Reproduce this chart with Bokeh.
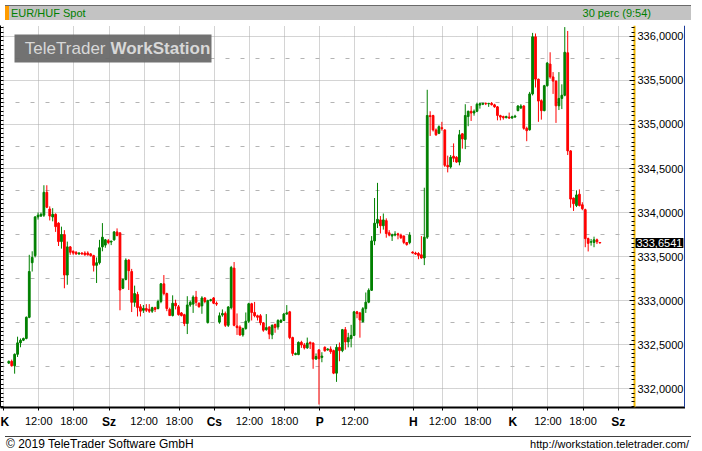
import numpy as np
from bokeh.plotting import figure
from bokeh.models import (FixedTicker, LinearAxis, Range1d, Label, Div, Grid,
                          BoxAnnotation, ColumnDataSource, Span)
from bokeh.layouts import column
from bokeh.embed import file_html
from bokeh.resources import INLINE

# ---------------- texts ----------------
title_left = "EUR/HUF Spot"
title_right = "30 perc (9:54)"
copyright_text = "© 2019 TeleTrader Software GmbH"
url_text = "http://workstation.teletrader.com/"
wm_light = "TeleTrader"
wm_bold = "WorkStation"

# ---------------- sessions (30 minute slots) ----------------
session_days = ["K", "Sz", "Cs", "P", "H", "K", "Sz"]
session_open_hour = [6, 6, 6, 6, 7, 6, 6]
session_slots = [36, 36, 36, 32, 34, 36, 36]
session_time_labels = [["12:00", "18:00"], ["12:00", "18:00"], ["12:00", "18:00"],
                       ["12:00"], ["12:00", "18:00"], ["12:00", "18:00"], []]

first_slot = 1  # first candle = K 06:30

# ---------------- candles (30 perc) ----------------
opens = [
    332.29, 332.31, 332.26, 332.39, 332.52, 332.55, 332.57, 332.81, 333.43, 333.51,
    333.95, 333.96, 333.97, 334.23, 334.04, 333.95, 333.98, 333.88, 333.67, 333.75,
    333.29, 333.61, 333.56, 333.55, 333.53, 333.54, 333.54, 333.54, 333.53, 333.51,
    333.40, 333.43, 333.61, 333.63, 333.68,
    333.665, 333.69, 333.78, 333.77, 333.14, 333.24, 333.46, 333.33, 332.98, 333.07,
    332.93, 332.89, 332.91, 332.90, 332.88, 332.92, 332.91, 332.99, 333.19, 333.08,
    332.90, 332.83, 332.97, 332.93, 332.86, 332.84, 332.74, 332.95, 332.96, 333.04,
    332.97, 332.94, 333.03, 332.75, 333.00, 333.03,
    332.97, 332.755, 332.836, 332.854, 332.719, 332.92, 333.369, 332.712, 332.70, 332.61,
    332.682, 332.766, 332.964, 332.865, 332.828, 332.828, 332.748, 332.67, 332.70, 332.61,
    332.73, 332.70, 332.755, 332.774, 332.847, 332.872, 332.58, 332.387, 332.387, 332.526,
    332.496, 332.463, 332.526, 332.518, 332.336, 332.44,
    332.355, 332.47, 332.44, 332.45, 332.432, 332.176, 332.469, 332.432, 332.67, 332.531,
    332.568, 332.605, 332.872, 332.86, 332.762, 332.908, 332.982, 333.117, 333.678, 333.879,
    333.916, 333.85, 333.908, 333.77, 333.733, 333.744, 333.758, 333.744, 333.733, 333.66,
    333.66, 333.55,
    333.54, 333.535, 333.52, 333.484, 333.72, 335.10, 335.102, 334.938, 334.90, 334.963,
    334.938, 334.536, 334.518, 334.64, 334.628, 334.573, 334.894, 334.83, 335.09, 335.15,
    335.13, 335.15, 335.22, 335.23, 335.24, 335.235, 335.24, 335.223, 335.20, 335.10,
    335.09, 335.077, 335.084, 335.073,
    335.084, 335.157, 335.186, 335.21, 334.956, 334.94, 335.347, 335.996, 335.515, 335.27,
    335.157, 335.44, 335.686, 335.54, 335.493, 335.212, 335.296, 335.332, 335.814, 334.70,
    334.164, 334.08, 334.208, 334.088, 334.033, 333.704, 333.664, 333.66, 333.69, 333.66,
]
highs = [
    332.32, 332.33, 332.40, 332.59, 332.57, 332.58, 332.82, 333.52, 333.56, 333.96,
    334.00, 334.00, 334.31, 334.31, 334.07, 334.05, 333.99, 333.89, 333.84, 333.80,
    333.67, 333.62, 333.57, 333.56, 333.55, 333.55, 333.56, 333.56, 333.54, 333.52,
    333.49, 333.69, 333.88, 333.70, 333.70,
    333.68, 333.79, 333.82, 333.77, 333.25, 333.48, 333.47, 333.36, 333.17, 333.10,
    332.96, 332.95, 332.96, 332.96, 332.93, 332.93, 333.01, 333.20, 333.29, 333.09,
    332.92, 333.06, 333.01, 332.95, 332.87, 332.85, 333.05, 333.00, 333.06, 333.11,
    332.98, 333.05, 333.04, 333.01, 333.02, 333.04,
    332.99, 332.865, 332.90, 332.876, 332.938, 333.394, 333.438, 332.854, 332.72, 332.693,
    332.865, 332.975, 332.975, 332.985, 332.84, 332.847, 332.755, 332.847, 332.708, 332.73,
    332.737, 332.788, 332.79, 332.86, 332.949, 332.883, 332.59, 332.41, 332.536, 332.544,
    332.518, 332.58, 332.535, 332.526, 332.40, 332.45,
    332.414, 332.48, 332.46, 332.48, 332.443, 332.505, 332.524, 332.678, 332.70, 332.634,
    332.725, 332.883, 332.883, 332.872, 332.927, 333.092, 333.139, 333.733, 334.165, 334.337,
    333.96, 333.989, 333.934, 333.80, 333.76, 333.788, 333.77, 333.76, 333.74, 333.665,
    333.777, 333.56,
    333.555, 333.55, 333.733, 334.282, 335.394, 335.15, 335.11, 334.955, 334.99, 335.03,
    334.945, 334.646, 334.653, 334.785, 334.64, 334.938, 334.90, 335.23, 335.157, 335.21,
    335.17, 335.248, 335.25, 335.245, 335.25, 335.245, 335.255, 335.235, 335.21, 335.11,
    335.10, 335.10, 335.135, 335.10,
    335.11, 335.22, 335.23, 335.22, 334.975, 335.37, 336.04, 336.033, 335.52, 335.285,
    335.45, 335.71, 335.82, 335.595, 335.50, 335.595, 335.456, 336.106, 336.062, 334.708,
    334.17, 334.252, 334.263, 334.117, 334.044, 333.715, 333.70, 333.726, 333.704, 333.665,
]
lows = [
    332.28, 332.25, 332.17, 332.36, 332.47, 332.54, 332.56, 332.80, 333.33, 333.49,
    333.92, 333.95, 333.95, 334.05, 333.91, 333.90, 333.78, 333.62, 333.59, 333.14,
    333.18, 333.52, 333.52, 333.52, 333.52, 333.52, 333.51, 333.51, 333.50, 333.33,
    333.20, 333.41, 333.56, 333.60, 333.64,
    333.63, 333.68, 333.73, 332.89, 333.13, 333.23, 333.12, 332.87, 332.93, 332.82,
    332.82, 332.86, 332.87, 332.86, 332.86, 332.87, 332.90, 332.97, 333.06, 332.88,
    332.83, 332.82, 332.90, 332.83, 332.82, 332.71, 332.62, 332.93, 332.86, 332.94,
    332.92, 332.85, 332.97, 332.74, 332.99, 332.96,
    332.94, 332.737, 332.817, 332.70, 332.70, 332.90, 332.708, 332.61, 332.60, 332.59,
    332.67, 332.745, 332.774, 332.81, 332.774, 332.72, 332.646, 332.657, 332.562, 332.562,
    332.635, 332.67, 332.745, 332.77, 332.84, 332.562, 332.372, 332.38, 332.38, 332.463,
    332.445, 332.452, 332.45, 332.226, 332.328, 331.82,
    332.30, 332.42, 332.43, 332.395, 332.165, 332.077, 332.311, 332.414, 332.443, 332.469,
    332.469, 332.597, 332.80, 332.579, 332.75, 332.86, 332.97, 333.11, 333.63, 333.824,
    333.762, 333.806, 333.714, 333.73, 333.677, 333.73, 333.696, 333.70, 333.641, 333.623,
    333.64, 333.535,
    333.52, 333.47, 333.476, 333.403, 333.70, 334.87, 334.92, 334.87, 334.89, 334.93,
    334.518, 334.456, 334.50, 334.573, 334.565, 334.536, 334.726, 334.72, 334.98, 335.04,
    335.10, 335.14, 335.18, 335.22, 335.22, 335.20, 335.215, 335.19, 335.047, 335.047,
    335.055, 335.07, 335.062, 335.066,
    335.077, 335.15, 335.18, 334.94, 334.81, 334.93, 335.33, 335.42, 335.03, 335.055,
    335.15, 335.43, 335.52, 335.347, 335.018, 335.164, 335.175, 335.32, 334.653, 334.055,
    334.018, 334.062, 334.069, 334.026, 333.606, 333.558, 333.624, 333.606, 333.642, 333.65,
]
closes = [
    332.31, 332.26, 332.39, 332.52, 332.55, 332.57, 332.81, 333.33, 333.49, 333.95,
    333.97, 333.98, 334.23, 334.06, 333.96, 333.98, 333.84, 333.67, 333.75, 333.29,
    333.61, 333.55, 333.54, 333.53, 333.54, 333.53, 333.52, 333.52, 333.51, 333.40,
    333.43, 333.60, 333.72, 333.69, 333.66,
    333.675, 333.78, 333.74, 333.12, 333.24, 333.46, 333.34, 332.98, 333.08, 332.92,
    332.88, 332.91, 332.89, 332.88, 332.92, 332.90, 332.99, 333.19, 333.08, 332.91,
    332.83, 332.97, 332.94, 332.84, 332.83, 332.74, 332.95, 332.98, 333.04, 332.98,
    332.93, 333.03, 332.99, 333.00, 333.01, 332.97,
    332.96, 332.828, 332.854, 332.719, 332.927, 333.376, 332.719, 332.693, 332.61, 332.682,
    332.766, 332.964, 332.865, 332.828, 332.81, 332.748, 332.664, 332.693, 332.62, 332.719,
    332.693, 332.774, 332.774, 332.847, 332.861, 332.58, 332.40, 332.40, 332.526, 332.496,
    332.463, 332.518, 332.511, 332.336, 332.365, 332.34,
    332.37, 332.43, 332.45, 332.42, 332.176, 332.469, 332.432, 332.67, 332.531, 332.579,
    332.605, 332.872, 332.853, 332.78, 332.908, 332.982, 333.117, 333.678, 333.879, 333.923,
    333.85, 333.916, 333.762, 333.744, 333.747, 333.755, 333.744, 333.714, 333.66, 333.637,
    333.744, 333.54,
    333.528, 333.513, 333.484, 333.72, 335.102, 335.09, 334.938, 334.883, 334.975, 334.953,
    334.536, 334.518, 334.628, 334.617, 334.573, 334.883, 334.836, 335.102, 335.15, 335.13,
    335.15, 335.23, 335.237, 335.24, 335.235, 335.24, 335.225, 335.20, 335.102, 335.084,
    335.077, 335.09, 335.073, 335.088,
    335.095, 335.21, 335.21, 334.956, 334.93, 335.347, 335.996, 335.515, 335.266, 335.157,
    335.44, 335.697, 335.54, 335.493, 335.212, 335.296, 335.332, 335.82, 334.70, 334.153,
    334.10, 334.20, 334.08, 334.044, 333.704, 333.65, 333.668, 333.69, 333.668, 333.6541,
]

# price axis
y_major = [332.0, 332.5, 333.0, 333.5, 334.0, 334.5, 335.0, 335.5, 336.0]
y_step_minor = 0.05

# ---------------- view / style ----------------
x_start, x_end = -1.83, 214.83          # candle area
y_start, y_end = 331.786, 336.124
CW, PW, FH = 634, 51, 382               # candle area width, price panel width, frame height
GREEN, RED = "#008000", "#ff0000"
GRID = "#a8a8a8"
FONT = "Liberation Sans"

# ---------------- derived ----------------
n = len(closes)
xs = np.arange(first_slot, first_slot + n)
o = np.array(opens); c = np.array(closes)
h = np.array(highs); l = np.array(lows)
up = c >= o
col = np.where(up, GREEN, RED)
src = ColumnDataSource(dict(x=xs, o=o, c=c, h=h, l=l,
                            top=np.maximum(o, c), bot=np.minimum(o, c), col=col))

day_ticks, time_ticks, time_tick_labels = [], [], []
start = 0
for d, oh, ns, tl in zip(session_days, session_open_hour, session_slots, session_time_labels):
    day_ticks.append(start - 0.75)
    for lab in tl:
        hh = int(lab.split(":")[0])
        time_ticks.append(start + (hh - oh) * 2 - 0.75)
        time_tick_labels.append(lab)
    start += ns
all_x_ticks = sorted(day_ticks + time_ticks)

y_minor = list(np.round(np.arange(y_major[0] - 0.5, y_major[-1] + 0.5 + 1e-9, y_step_minor), 4))
y_quarter = [v + 0.25 for v in y_major[:-1]]
y_labels = {v: f"{v:.4f}".replace(".", ",") for v in y_major}

# the frame also hosts the price panel at its right
x_full_end = x_start + (x_end - x_start) * (CW + PW) / CW

p = figure(frame_width=CW + PW, frame_height=FH, output_backend="svg", toolbar_location=None,
           x_range=Range1d(x_start, x_full_end), y_range=Range1d(y_start, y_end),
           min_border_left=0, min_border_right=0, min_border_top=0, min_border_bottom=0,
           background_fill_color="white", border_fill_color="white")
p.outline_line_color = None

# grids
p.xgrid.ticker = FixedTicker(ticks=all_x_ticks)
p.xgrid.grid_line_color = GRID
p.xgrid.grid_line_dash = "1 1"
p.ygrid.ticker = FixedTicker(ticks=y_major)
p.ygrid.grid_line_color = GRID
p.ygrid.grid_line_dash = "1 1"
qgrid = Grid(dimension=1, ticker=FixedTicker(ticks=y_quarter),
             grid_line_color="#b4b4b4", grid_line_dash="4 11", grid_line_width=1)
p.add_layout(qgrid)

# white price panel covering the grid lines
p.add_layout(BoxAnnotation(left=x_end, right=x_full_end, bottom=y_start, top=y_end,
                           fill_color="white", fill_alpha=1.0, line_color=None,
                           level="underlay"))
p.add_layout(Span(location=x_full_end, dimension="height", line_color="#1c3c9c",
                  line_width=3))

# x axis: time labels (days only get tick marks here)
xa = p.xaxis[0]
xa.ticker = FixedTicker(ticks=time_ticks, minor_ticks=day_ticks)
xa.major_label_overrides = {t: lab for t, lab in zip(time_ticks, time_tick_labels)}
xa.major_label_text_font = FONT
xa.major_label_text_font_size = "11px"
xa.major_label_text_color = "black"
xa.major_label_standoff = 4
xa.major_tick_out = 3
xa.major_tick_in = 0
xa.minor_tick_out = 3
xa.minor_tick_in = 0
xa.axis_line_width = 2
xa.axis_line_color = "black"
xa.major_tick_line_color = "black"
xa.minor_tick_line_color = "black"

# day names, bold, pulled up into the same row
day_axis = LinearAxis(ticker=FixedTicker(ticks=day_ticks, minor_ticks=[]),
                      major_label_overrides={t: d for t, d in zip(day_ticks, session_days)})
day_axis.major_label_text_font = FONT
day_axis.major_label_text_font_size = "12px"
day_axis.major_label_text_font_style = "bold"
day_axis.major_label_text_color = "black"
day_axis.major_label_standoff = -15
day_axis.major_tick_out = 0
day_axis.major_tick_in = 0
day_axis.minor_tick_out = 0
day_axis.minor_tick_in = 0
day_axis.axis_line_color = None
p.add_layout(day_axis, "below")

# left axis: tick marks only
ya = p.yaxis[0]
ya.ticker = FixedTicker(ticks=[], minor_ticks=y_minor)
ya.major_label_standoff = 0
ya.major_tick_in = 0
ya.major_tick_out = 0
ya.minor_tick_in = 3
ya.minor_tick_out = 0
ya.axis_line_color = "black"
ya.minor_tick_line_color = "black"

# right price axis, drawn at the right end of the candle area
ra = LinearAxis(ticker=FixedTicker(ticks=y_major, minor_ticks=y_minor),
                major_label_overrides=y_labels, fixed_location=x_end)
ra.major_label_text_font = FONT
ra.major_label_text_font_size = "11px"
ra.major_label_text_color = "black"
ra.major_label_standoff = 3
ra.major_tick_in = 5
ra.major_tick_out = 0
ra.minor_tick_in = 3
ra.minor_tick_out = 0
ra.axis_line_color = "#f0b800"
ra.axis_line_width = 2
ra.major_tick_line_color = "black"
ra.minor_tick_line_color = "black"
p.add_layout(ra, "right")

# candles
p.segment(x0="x", y0="l", x1="x", y1="h", color="col", line_width=1, source=src)
p.vbar(x="x", width=0.6, top="top", bottom="bot", fill_color="col", line_color="col",
       line_width=1, source=src)

# watermark
p.add_layout(BoxAnnotation(left=14, right=211, top=FH - 9, bottom=FH - 37,
                           left_units="screen", right_units="screen",
                           top_units="screen", bottom_units="screen",
                           fill_color="#6a6a6a", fill_alpha=0.95, line_color=None))
p.add_layout(Label(x=105, y=FH - 23, x_units="screen", y_units="screen", text=wm_light,
                   text_align="right", text_baseline="middle", text_font=FONT,
                   text_font_size="17px", text_color="#d8d8d8"))
p.add_layout(Label(x=110, y=FH - 23, x_units="screen", y_units="screen", text=wm_bold,
                   text_align="left", text_baseline="middle", text_font=FONT,
                   text_font_size="17px", text_font_style="bold", text_color="#d8d8d8"))

# last price box on the price axis
p.add_layout(Label(x=x_end, y=closes[-1], x_units="data", y_units="data", x_offset=1,
                   text=f"{closes[-1]:.4f}".replace(".", ","), text_align="left",
                   text_baseline="middle", text_font=FONT, text_font_size="11px",
                   text_color="white", background_fill_color="black", padding=1))

W = 686
header = Div(width=W, height=15, text=(
    f"<div style=\"position:relative;width:{W}px;height:15px;background:#c3c3c3;"
    "border-top:1px solid #6a6a6a;box-sizing:border-box;font-family:'Liberation Sans',Arial,sans-serif;"
    "font-size:11px;color:#008000;line-height:14px;\">"
    "<span style=\"position:absolute;left:0;top:0;width:4px;height:14px;background:#ff9c00\"></span>"
    f"<span style=\"position:absolute;left:6px;top:0\">{title_left}</span>"
    f"<span style=\"position:absolute;right:40px;top:0\">{title_right}</span></div>"))
footer = Div(width=W, height=17, text=(
    f"<div style=\"position:relative;width:{W}px;height:17px;background:#ffffff;"
    "border-top:1px solid #404040;box-sizing:border-box;font-family:'Liberation Sans',Arial,sans-serif;"
    "color:black;line-height:15px;\">"
    f"<span style=\"position:absolute;left:1px;top:0;font-size:12px\">{copyright_text}</span>"
    f"<span style=\"position:absolute;right:2px;top:0;font-size:11px\">{url_text}</span></div>"))

layout = column(header, p, footer, spacing=0)
open("out.html", "w").write(file_html(layout, INLINE))
